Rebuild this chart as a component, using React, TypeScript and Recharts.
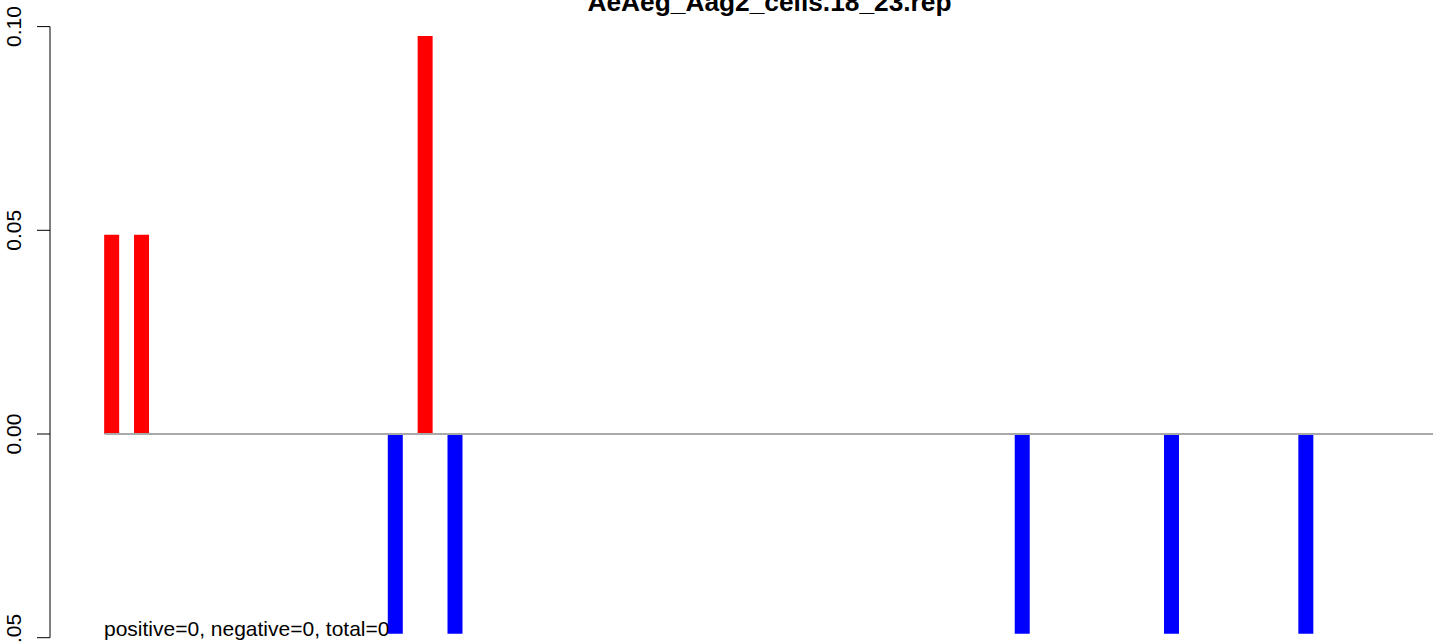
import { BarChart, Bar, Cell, XAxis, YAxis, ReferenceLine } from 'recharts'

// sequence length (nt) and read start positions, 1-based
const seqLength = 89
const sensePositions = [1, 3, 22]
const senseValues = [0.0489, 0.0489, 0.0977]
const antisensePositions = [20, 24, 62, 72, 81]
const antisenseValues = [-0.049, -0.049, -0.049, -0.049, -0.049]
const yTicks = [-0.05, 0, 0.05, 0.1]
const title = 'AeAeg_Aag2_cells.18_23.rep'
const note = 'positive=0, negative=0, total=0'

const W = 1433
const H = 643
const FONT = 'Liberation Sans, Arial, Helvetica, sans-serif'

// each bar covers one nucleotide, [pos-1, pos]
const chartData = [
  ...sensePositions.map((p, i) => ({ pos: p - 0.5, value: senseValues[i] })),
  ...antisensePositions.map((p, i) => ({ pos: p - 0.5, value: antisenseValues[i] })),
].sort((a, b) => a.pos - b.pos)

const YTick = (props: any) => {
  const { y, payload } = props
  return (
    <text
      x={21}
      y={y}
      transform={`rotate(-90, 21, ${y})`}
      textAnchor="middle"
      fontSize={21}
      fontFamily={FONT}
      fill="#000"
    >
      {payload.value.toFixed(2)}
    </text>
  )
}

export default function App() {
  return (
    <div style={{ position: 'absolute', left: 0, top: 0, width: W, height: H, background: '#fff' }}>
      <BarChart
        width={W}
        height={H}
        data={chartData}
        margin={{ top: 26.6, right: 0, bottom: 5.3, left: 0 }}
      >
        <XAxis
          type="number"
          dataKey="pos"
          domain={[-3.66, 88.99]}
          allowDataOverflow
          hide
        />
        <YAxis
          width={50}
          domain={[-0.05, 0.1]}
          ticks={yTicks}
          allowDataOverflow
          axisLine={{ stroke: '#000', strokeWidth: 1 }}
          tickLine={{ stroke: '#000', strokeWidth: 1 }}
          tickSize={13}
          tick={<YTick />}
          interval={0}
        />
        <ReferenceLine
          segment={[
            { x: 0, y: 0 },
            { x: seqLength, y: 0 },
          ]}
          ifOverflow="visible"
          stroke="#a9a9a9"
          strokeWidth={2}
        />
        <Bar dataKey="value" barSize={15} isAnimationActive={false}>
          {chartData.map((d, i) => (
            <Cell key={i} fill={d.value >= 0 ? '#ff0000' : '#0000ff'} />
          ))}
        </Bar>
      </BarChart>
      <svg
        width={W}
        height={H}
        style={{ position: 'absolute', left: 0, top: 0, pointerEvents: 'none' }}
      >
        <text
          x={769.5}
          y={10.5}
          textAnchor="middle"
          fontSize={26.3}
          fontWeight="bold"
          fontFamily={FONT}
          fill="#000"
        >
          {title}
        </text>
        <text x={104} y={636} fontSize={21} fontFamily={FONT} fill="#000">
          {note}
        </text>
      </svg>
    </div>
  )
}
